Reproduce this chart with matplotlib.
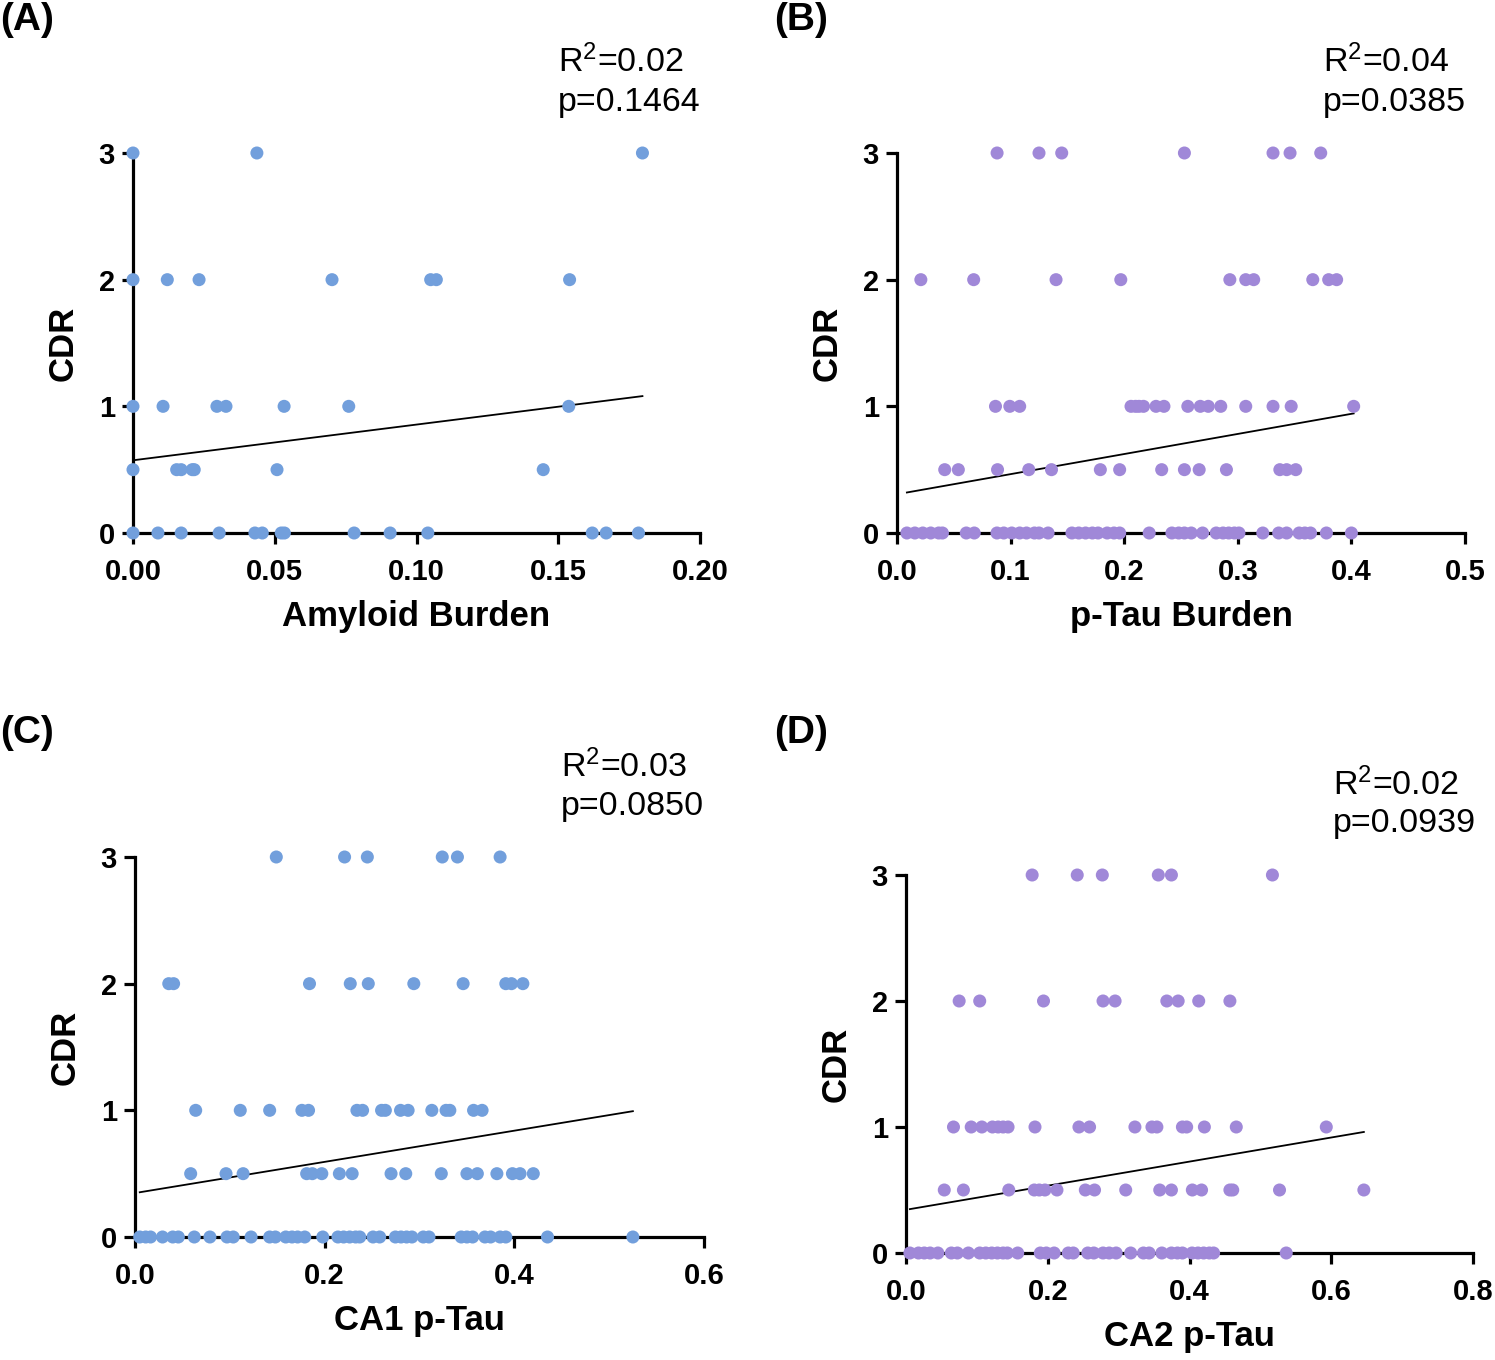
import matplotlib
matplotlib.use("Agg")
import matplotlib.pyplot as plt
import numpy as np

plt.rcParams['font.family'] = ['Liberation Sans', 'DejaVu Sans']
plt.rcParams['mathtext.fontset'] = 'custom'
plt.rcParams['mathtext.rm'] = 'Liberation Sans'
plt.rcParams['mathtext.default'] = 'regular'

cdr_levels = [0, 0.5, 1, 2, 3]

# ---- Panel A: Amyloid burden ----
A_cdr0 = [0.0, 0.0088, 0.017, 0.0304, 0.043, 0.0456, 0.0523, 0.0534, 0.078, 0.0907,
          0.104, 0.162, 0.1669, 0.1783]
A_cdr05 = [0.0, 0.0154, 0.017, 0.0209, 0.0216, 0.0508, 0.1447]
A_cdr1 = [0.0, 0.0106, 0.0296, 0.0328, 0.0533, 0.0761, 0.1537]
A_cdr2 = [0.0, 0.0121, 0.0233, 0.0702, 0.105, 0.107, 0.154]
A_cdr3 = [0.0, 0.0437, 0.1797]

# ---- Panel B: p-Tau burden ----
B_cdr0 = [0.0087, 0.0157, 0.0227, 0.0297, 0.0367, 0.040, 0.061, 0.068, 0.088, 0.094,
          0.101, 0.108, 0.114, 0.121, 0.125, 0.133, 0.154, 0.160, 0.166, 0.172,
          0.177, 0.185, 0.191, 0.196, 0.222, 0.242, 0.248, 0.253, 0.259, 0.269,
          0.281, 0.287, 0.292, 0.297, 0.301, 0.322, 0.336, 0.343, 0.354, 0.359,
          0.364, 0.378, 0.400]
B_cdr05 = [0.042, 0.054, 0.0885, 0.116, 0.136, 0.179, 0.196, 0.233, 0.253, 0.266,
           0.290, 0.337, 0.343, 0.351]
B_cdr1 = [0.0867, 0.0993, 0.108, 0.206, 0.210, 0.213, 0.217, 0.228, 0.235, 0.256,
          0.267, 0.274, 0.285, 0.307, 0.331, 0.347, 0.402]
B_cdr2 = [0.021, 0.0675, 0.140, 0.197, 0.293, 0.307, 0.314, 0.366, 0.380, 0.387]
B_cdr3 = [0.0881, 0.125, 0.145, 0.253, 0.331, 0.346, 0.373]

# ---- Panel C: CA1 p-Tau ----
C_cdr0 = [0.005, 0.0113, 0.0164, 0.029, 0.0398, 0.0457, 0.0625, 0.079, 0.097, 0.1036,
          0.1224, 0.142, 0.148, 0.159, 0.1656, 0.1715, 0.179, 0.198, 0.214, 0.220,
          0.2264, 0.2327, 0.237, 0.251, 0.258, 0.2746, 0.2805, 0.2864, 0.292, 0.304,
          0.310, 0.344, 0.350, 0.356, 0.369, 0.375, 0.385, 0.391, 0.435, 0.525]
C_cdr05 = [0.0587, 0.096, 0.114, 0.181, 0.187, 0.197, 0.2155, 0.229, 0.270, 0.2855,
           0.323, 0.350, 0.361, 0.3816, 0.398, 0.406, 0.420]
C_cdr1 = [0.064, 0.111, 0.142, 0.176, 0.183, 0.234, 0.240, 0.260, 0.264, 0.280,
          0.288, 0.313, 0.328, 0.332, 0.357, 0.366]
C_cdr2 = [0.0356, 0.0407, 0.184, 0.227, 0.246, 0.294, 0.346, 0.391, 0.397, 0.409]
C_cdr3 = [0.149, 0.221, 0.245, 0.324, 0.340, 0.385]

# ---- Panel D: CA2 p-Tau ----
D_cdr0 = [0.0055, 0.0176, 0.0258, 0.034, 0.045, 0.064, 0.0725, 0.088, 0.104, 0.1126,
          0.121, 0.129, 0.137, 0.143, 0.1576, 0.1895, 0.198, 0.209, 0.229, 0.236,
          0.2565, 0.265, 0.278, 0.2867, 0.2965, 0.317, 0.335, 0.343, 0.361, 0.3745,
          0.383, 0.390, 0.4036, 0.412, 0.420, 0.428, 0.434, 0.5365]
D_cdr05 = [0.054, 0.081, 0.145, 0.181, 0.188, 0.196, 0.213, 0.253, 0.266, 0.310,
           0.358, 0.3745, 0.404, 0.417, 0.457, 0.461, 0.527, 0.646]
D_cdr1 = [0.067, 0.092, 0.107, 0.122, 0.130, 0.137, 0.144, 0.182, 0.244, 0.259,
          0.323, 0.347, 0.354, 0.390, 0.396, 0.421, 0.466, 0.593]
D_cdr2 = [0.075, 0.104, 0.194, 0.278, 0.295, 0.368, 0.384, 0.413, 0.457]
D_cdr3 = [0.178, 0.2416, 0.277, 0.356, 0.3745, 0.517]

# regression lines (intercept, slope)
fit_intercepts = [0.574, 0.306, 0.347, 0.343]
fit_slopes = [2.82, 1.587, 1.231, 0.956]

panel_letters = ['(A)', '(B)', '(C)', '(D)']
x_labels = ['Amyloid Burden', 'p-Tau Burden', 'CA1 p-Tau', 'CA2 p-Tau']
r2_texts = ['R$^{2}$=0.02', 'R$^{2}$=0.04', 'R$^{2}$=0.03', 'R$^{2}$=0.02']
p_texts = ['p=0.1464', 'p=0.0385', 'p=0.0850', 'p=0.0939']
x_ticks = [[0.00, 0.05, 0.10, 0.15, 0.20],
           [0.0, 0.1, 0.2, 0.3, 0.4, 0.5],
           [0.0, 0.2, 0.4, 0.6],
           [0.0, 0.2, 0.4, 0.6, 0.8]]
x_tick_labels = [['0.00', '0.05', '0.10', '0.15', '0.20'],
                 ['0.0', '0.1', '0.2', '0.3', '0.4', '0.5'],
                 ['0.0', '0.2', '0.4', '0.6'],
                 ['0.0', '0.2', '0.4', '0.6', '0.8']]
y_ticks = [0, 1, 2, 3]
y_tick_labels = ['0', '1', '2', '3']

panels_data = [
    [A_cdr0, A_cdr05, A_cdr1, A_cdr2, A_cdr3],
    [B_cdr0, B_cdr05, B_cdr1, B_cdr2, B_cdr3],
    [C_cdr0, C_cdr05, C_cdr1, C_cdr2, C_cdr3],
    [D_cdr0, D_cdr05, D_cdr1, D_cdr2, D_cdr3],
]
colors = ['#729fdc', '#a088d8', '#729fdc', '#a088d8']

W, H = 1495, 1360
fig = plt.figure(figsize=(W / 100, H / 100), dpi=100)

# axes rectangles in pixels: (left, right, y_of_0, y_of_3)
rects_px = [(133, 700, 533, 153), (897, 1465, 533, 153),
            (135, 704, 1237, 857), (906, 1473, 1253, 875)]
letter_pos = [(0, 20), (774, 20), (0, 733), (774, 733)]
stat_pos = [(558, 62, 102), (1323, 62, 102), (561, 767, 806), (1333, 785, 824)]

for i in range(4):
    l, r, y0, y3 = rects_px[i]
    ax = fig.add_axes([l / W, (H - y0) / H, (r - l) / W, (y0 - y3) / H])
    xs, ys = [], []
    for lvl, vals in zip(cdr_levels, panels_data[i]):
        xs += vals
        ys += [lvl] * len(vals)
    xs = np.array(xs)
    ys = np.array(ys)
    ax.scatter(xs, ys, s=88, color=colors[i], edgecolors='none', zorder=3, clip_on=False)
    xl = np.array([xs.min(), xs.max()])
    ax.plot(xl, fit_intercepts[i] + fit_slopes[i] * xl, color='black', lw=1.3, zorder=2)
    ax.set_xlim(x_ticks[i][0], x_ticks[i][-1])
    ax.set_ylim(0, 3)
    ax.set_xticks(x_ticks[i])
    ax.set_xticklabels(x_tick_labels[i])
    ax.set_yticks(y_ticks)
    ax.set_yticklabels(y_tick_labels)
    for s in ['top', 'right']:
        ax.spines[s].set_visible(False)
    for s in ['left', 'bottom']:
        ax.spines[s].set_linewidth(2.3)
        ax.spines[s].set_zorder(1)
    ax.tick_params(axis='both', width=2.3, length=8, labelsize=21)
    ax.tick_params(axis='x', pad=10)
    ax.tick_params(axis='y', pad=5)
    for lab in ax.get_xticklabels() + ax.get_yticklabels():
        lab.set_fontweight('bold')
    ax.set_xlabel(x_labels[i], fontsize=25, fontweight='bold', labelpad=10)
    ax.set_ylabel('CDR', fontsize=25, fontweight='bold', labelpad=14)
    ax.patch.set_alpha(0)

    lx, ly = letter_pos[i]
    fig.text(lx / W, 1 - ly / H, panel_letters[i], fontsize=28, fontweight='bold',
             ha='left', va='center')
    sx, sy1, sy2 = stat_pos[i]
    fig.text(sx / W, 1 - sy1 / H, r2_texts[i], fontsize=24.5, ha='left', va='center')
    fig.text(sx / W, 1 - sy2 / H, p_texts[i], fontsize=24.5, ha='left', va='center')

fig.savefig('out.png', dpi=100)
